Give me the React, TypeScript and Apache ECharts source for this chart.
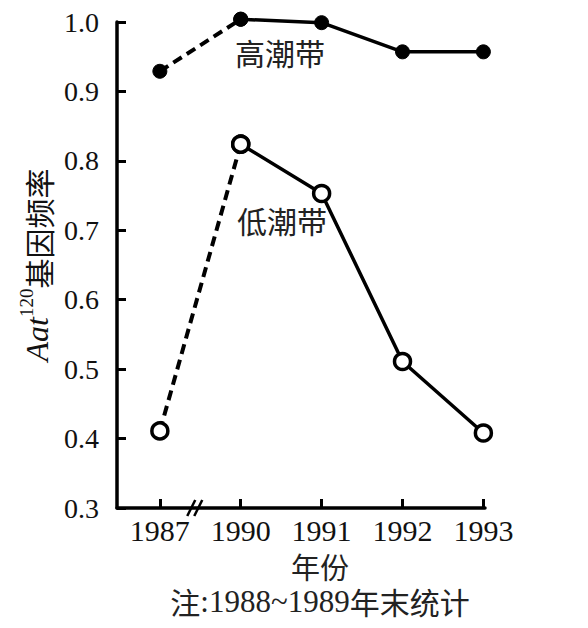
import React, { useEffect, useRef } from "react";
import * as echarts from "echarts";

// Categories (years) placed at evenly spaced axis positions
const years = ["1987", "1990", "1991", "1992", "1993"];
const xPos = [0, 1, 2, 3, 4];
// 高潮带 (filled dots)
const highTide = [0.929, 1.004, 0.999, 0.957, 0.957];
// 低潮带 (open circles)
const lowTide = [0.411, 0.824, 0.753, 0.511, 0.408];
// y axis range
const yMin = 0.3;
const yMax = 1.0;
const yStep = 0.1;

const SERIF = "'Liberation Serif', 'Times New Roman', serif";
const CJK = "'Noto Sans CJK SC', sans-serif";

function pairs(vals: number[], from: number, to: number) {
  const out: number[][] = [];
  for (let i = from; i <= to; i++) out.push([xPos[i], vals[i]]);
  return out;
}

export default function App() {
  const ref = useRef<HTMLDivElement>(null);
  useEffect(() => {
    document.body.style.margin = "0";
    if (!ref.current) return;
    const chart = echarts.init(ref.current, undefined, { renderer: "svg" });
    const highSymbol = {
      symbol: "circle",
      symbolSize: 14,
      itemStyle: { color: "#000", borderColor: "#000", borderWidth: 1 },
    };
    const lowSymbol = {
      symbol: "circle",
      symbolSize: 16,
      itemStyle: { color: "#fff", borderColor: "#000", borderWidth: 3.5 },
    };
    const solid = { color: "#000", width: 3.5, type: "solid" };
    const dashed = { color: "#000", width: 4, type: [10, 6] };
    const axisStroke = { color: "#000", width: 3.5 };
    chart.setOption({
      animation: false,
      backgroundColor: "#fff",
      grid: { left: 117, right: 103, top: 22, bottom: 120, containLabel: false },
      xAxis: {
        type: "value",
        min: -0.53,
        max: 4.02,
        splitLine: { show: false },
        axisLine: { show: true, onZero: false, lineStyle: axisStroke },
        axisTick: {
          show: true,
          inside: true,
          length: 9,
          customValues: xPos,
          lineStyle: { color: "#000", width: 3 },
        },
        axisLabel: {
          customValues: xPos,
          margin: 7,
          fontFamily: SERIF,
          fontSize: 30,
          color: "#111",
          formatter: (v: number) => years[Math.round(v)] ?? "",
        },
      },
      yAxis: {
        type: "value",
        min: yMin,
        max: yMax,
        interval: yStep,
        splitLine: { show: false },
        axisLine: { show: true, onZero: false, lineStyle: axisStroke },
        axisTick: { show: true, inside: true, length: 9, lineStyle: { color: "#000", width: 3 } },
        axisLabel: {
          margin: 18,
          fontFamily: SERIF,
          fontSize: 28,
          color: "#111",
          formatter: (v: number) => v.toFixed(1),
        },
        name: "{i|Aat}{s|120}{c|基因频率}",
        nameLocation: "middle",
        nameRotate: 90,
        nameGap: 64,
        nameTextStyle: {
          color: "#111",
          rich: {
            i: { fontFamily: SERIF, fontStyle: "italic", fontSize: 32, lineHeight: 36, verticalAlign: "bottom", color: "#111" },
            s: { fontFamily: SERIF, fontSize: 19, lineHeight: 36, verticalAlign: "top", color: "#111" },
            c: { fontFamily: CJK, fontSize: 30, lineHeight: 36, verticalAlign: "bottom", color: "#111" },
          },
        },
      },
      series: [
        {
          name: "高潮带-dashed",
          type: "line",
          clip: false,
          data: pairs(highTide, 0, 1),
          lineStyle: dashed,
          ...highSymbol,
          z: 2,
        },
        {
          name: "高潮带",
          type: "line",
          clip: false,
          data: pairs(highTide, 1, 4),
          lineStyle: solid,
          ...highSymbol,
          z: 3,
        },
        {
          name: "低潮带-dashed",
          type: "line",
          clip: false,
          data: pairs(lowTide, 0, 1),
          lineStyle: dashed,
          ...lowSymbol,
          z: 2,
        },
        {
          name: "低潮带",
          type: "line",
          clip: false,
          data: pairs(lowTide, 1, 4),
          lineStyle: solid,
          ...lowSymbol,
          z: 3,
        },
      ],
    });

    const brk = chart.convertToPixel({ gridIndex: 0 }, [0.45, yMin]) as number[];
    const bx = brk[0];
    const by = brk[1];
    chart.setOption({
      graphic: [
        {
          type: "line",
          shape: { x1: bx - 9, y1: by + 8, x2: bx - 1, y2: by - 8 },
          style: { stroke: "#000", lineWidth: 2.5 },
          z: 10,
        },
        {
          type: "line",
          shape: { x1: bx - 2, y1: by + 8, x2: bx + 6, y2: by - 8 },
          style: { stroke: "#000", lineWidth: 2.5 },
          z: 10,
        },
        {
          type: "text",
          x: 280,
          y: 52,
          style: { text: "高潮带", fontFamily: CJK, fontSize: 30, fill: "#222", align: "center", verticalAlign: "middle" },
        },
        {
          type: "text",
          x: 282,
          y: 220,
          style: { text: "低潮带", fontFamily: CJK, fontSize: 30, fill: "#222", align: "center", verticalAlign: "middle" },
        },
        {
          type: "text",
          x: 320,
          y: 566,
          style: { text: "年份", fontFamily: CJK, fontSize: 29, lineHeight: 30, fill: "#222", align: "center", verticalAlign: "middle" },
        },
        {
          type: "text",
          x: 320,
          y: 601,
          style: {
            text: "{c|注}{d|:1988~1989}{c|年末统计}",
            align: "center",
            verticalAlign: "middle",
            rich: {
              c: { fontFamily: CJK, fontSize: 30, lineHeight: 30, fill: "#222" },
              d: { fontFamily: SERIF, fontSize: 31, lineHeight: 30, fill: "#222" },
            },
          },
        },
      ],
    });

    return () => chart.dispose();
  }, []);
  return <div ref={ref} style={{ width: 588, height: 628 }} />;
}
